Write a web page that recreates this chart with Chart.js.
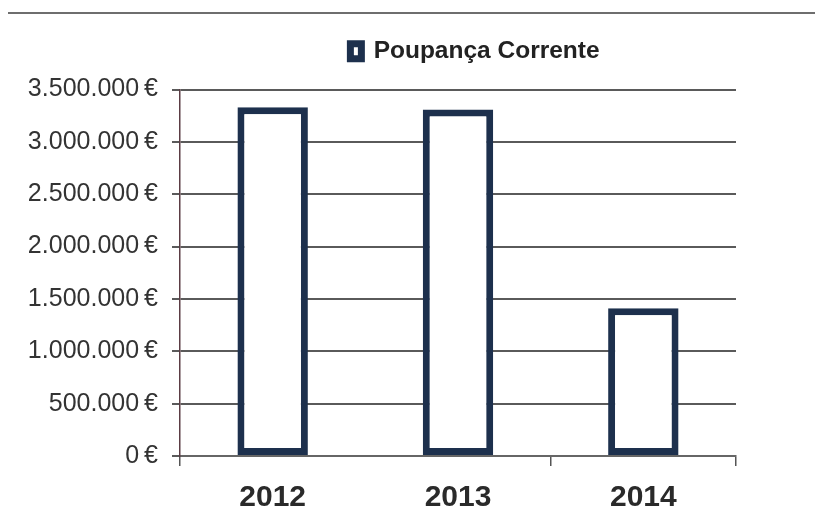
<!DOCTYPE html>
<html>
<head>
<meta charset="utf-8">
<script src="https://cdn.jsdelivr.net/npm/chart.js@4.4.1/dist/chart.umd.min.js"></script>
<style>
  html, body { margin: 0; padding: 0; background: #fff; }
  #wrap { position: relative; width: 815px; height: 522px; }
  #topline { position: absolute; left: 8px; top: 12px; width: 807px; height: 2px; background: #6e6e6e; }
</style>
</head>
<body>
<div id="wrap">
  <div id="topline"></div>
  <canvas id="poupanca_chart" width="815" height="522"></canvas>
</div>
<script>
const years = ['2012', '2013', '2014'];
const poupanca_values = [3330000, 3310000, 1410000];
const y_max = 3500000;
const y_step = 500000;

const navy = '#1d304d';
const font_family = '"Liberation Sans", Arial, sans-serif';

// 3500000 -> "3.500.000 €" (thin space before the euro sign)
const fmt_euro = v => String(v).replace(/\B(?=(\d{3})+(?!\d))/g, '.') + '\u2009€';

// the legend sits a bit right of the plot centre in the original
const legend_shift = {
  id: 'legend_shift',
  afterLayout(chart) {
    chart.legend.left += 17;
    chart.legend.right += 17;
  }
};

const poupanca_ctx = document.getElementById('poupanca_chart');

const poupanca_data = {
  labels: years,
  datasets: [{
    label: 'Poupança Corrente',
    data: poupanca_values,
    backgroundColor: '#ffffff',
    borderColor: navy,
    borderWidth: 7,
    borderSkipped: false,
    barPercentage: 0.38,
    categoryPercentage: 1
  }]
};

const poupanca_config = {
  type: 'bar',
  data: poupanca_data,
  plugins: [legend_shift],
  options: {
    responsive: false,
    animation: false,
    layout: { padding: { left: 0, right: 79, top: 29, bottom: 0 } },
    plugins: {
      tooltip: { enabled: false },
      // empty title used only as a spacer between legend and plot
      title: { display: true, text: '', weight: 500, padding: 0, font: { size: 10, lineHeight: '16px' } },
      legend: {
        fullSize: false,
        labels: {
          color: '#222',
          font: { family: font_family, size: 24.5, weight: 'bold' },
          boxWidth: 11,
          boxHeight: 15,
          padding: 10
        }
      }
    },
    scales: {
      x: {
        grid: {
          drawOnChartArea: false,
          color: ctx => ctx.index === 1 ? 'rgba(0,0,0,0)' : '#555',
          lineWidth: 1.5,
          tickLength: 10
        },
        border: { color: '#666', width: 2 },
        ticks: {
          color: '#2a2a2a',
          padding: 14,
          font: { family: font_family, size: 30, weight: 'bold' }
        },
        afterFit: s => { s.height = 66; }
      },
      y: {
        min: 0,
        max: y_max,
        grid: { color: '#5a5a5a', lineWidth: 2, tickLength: 8 },
        border: { color: '#5b3c44', width: 1.5 },
        ticks: {
          stepSize: y_step,
          color: '#333',
          padding: 14,
          font: { family: font_family, size: 25 },
          callback: v => fmt_euro(v)
        },
        afterFit: s => { s.width = 180; }
      }
    }
  }
};

const poupanca_chart = new Chart(poupanca_ctx, poupanca_config);
</script>
</body>
</html>
